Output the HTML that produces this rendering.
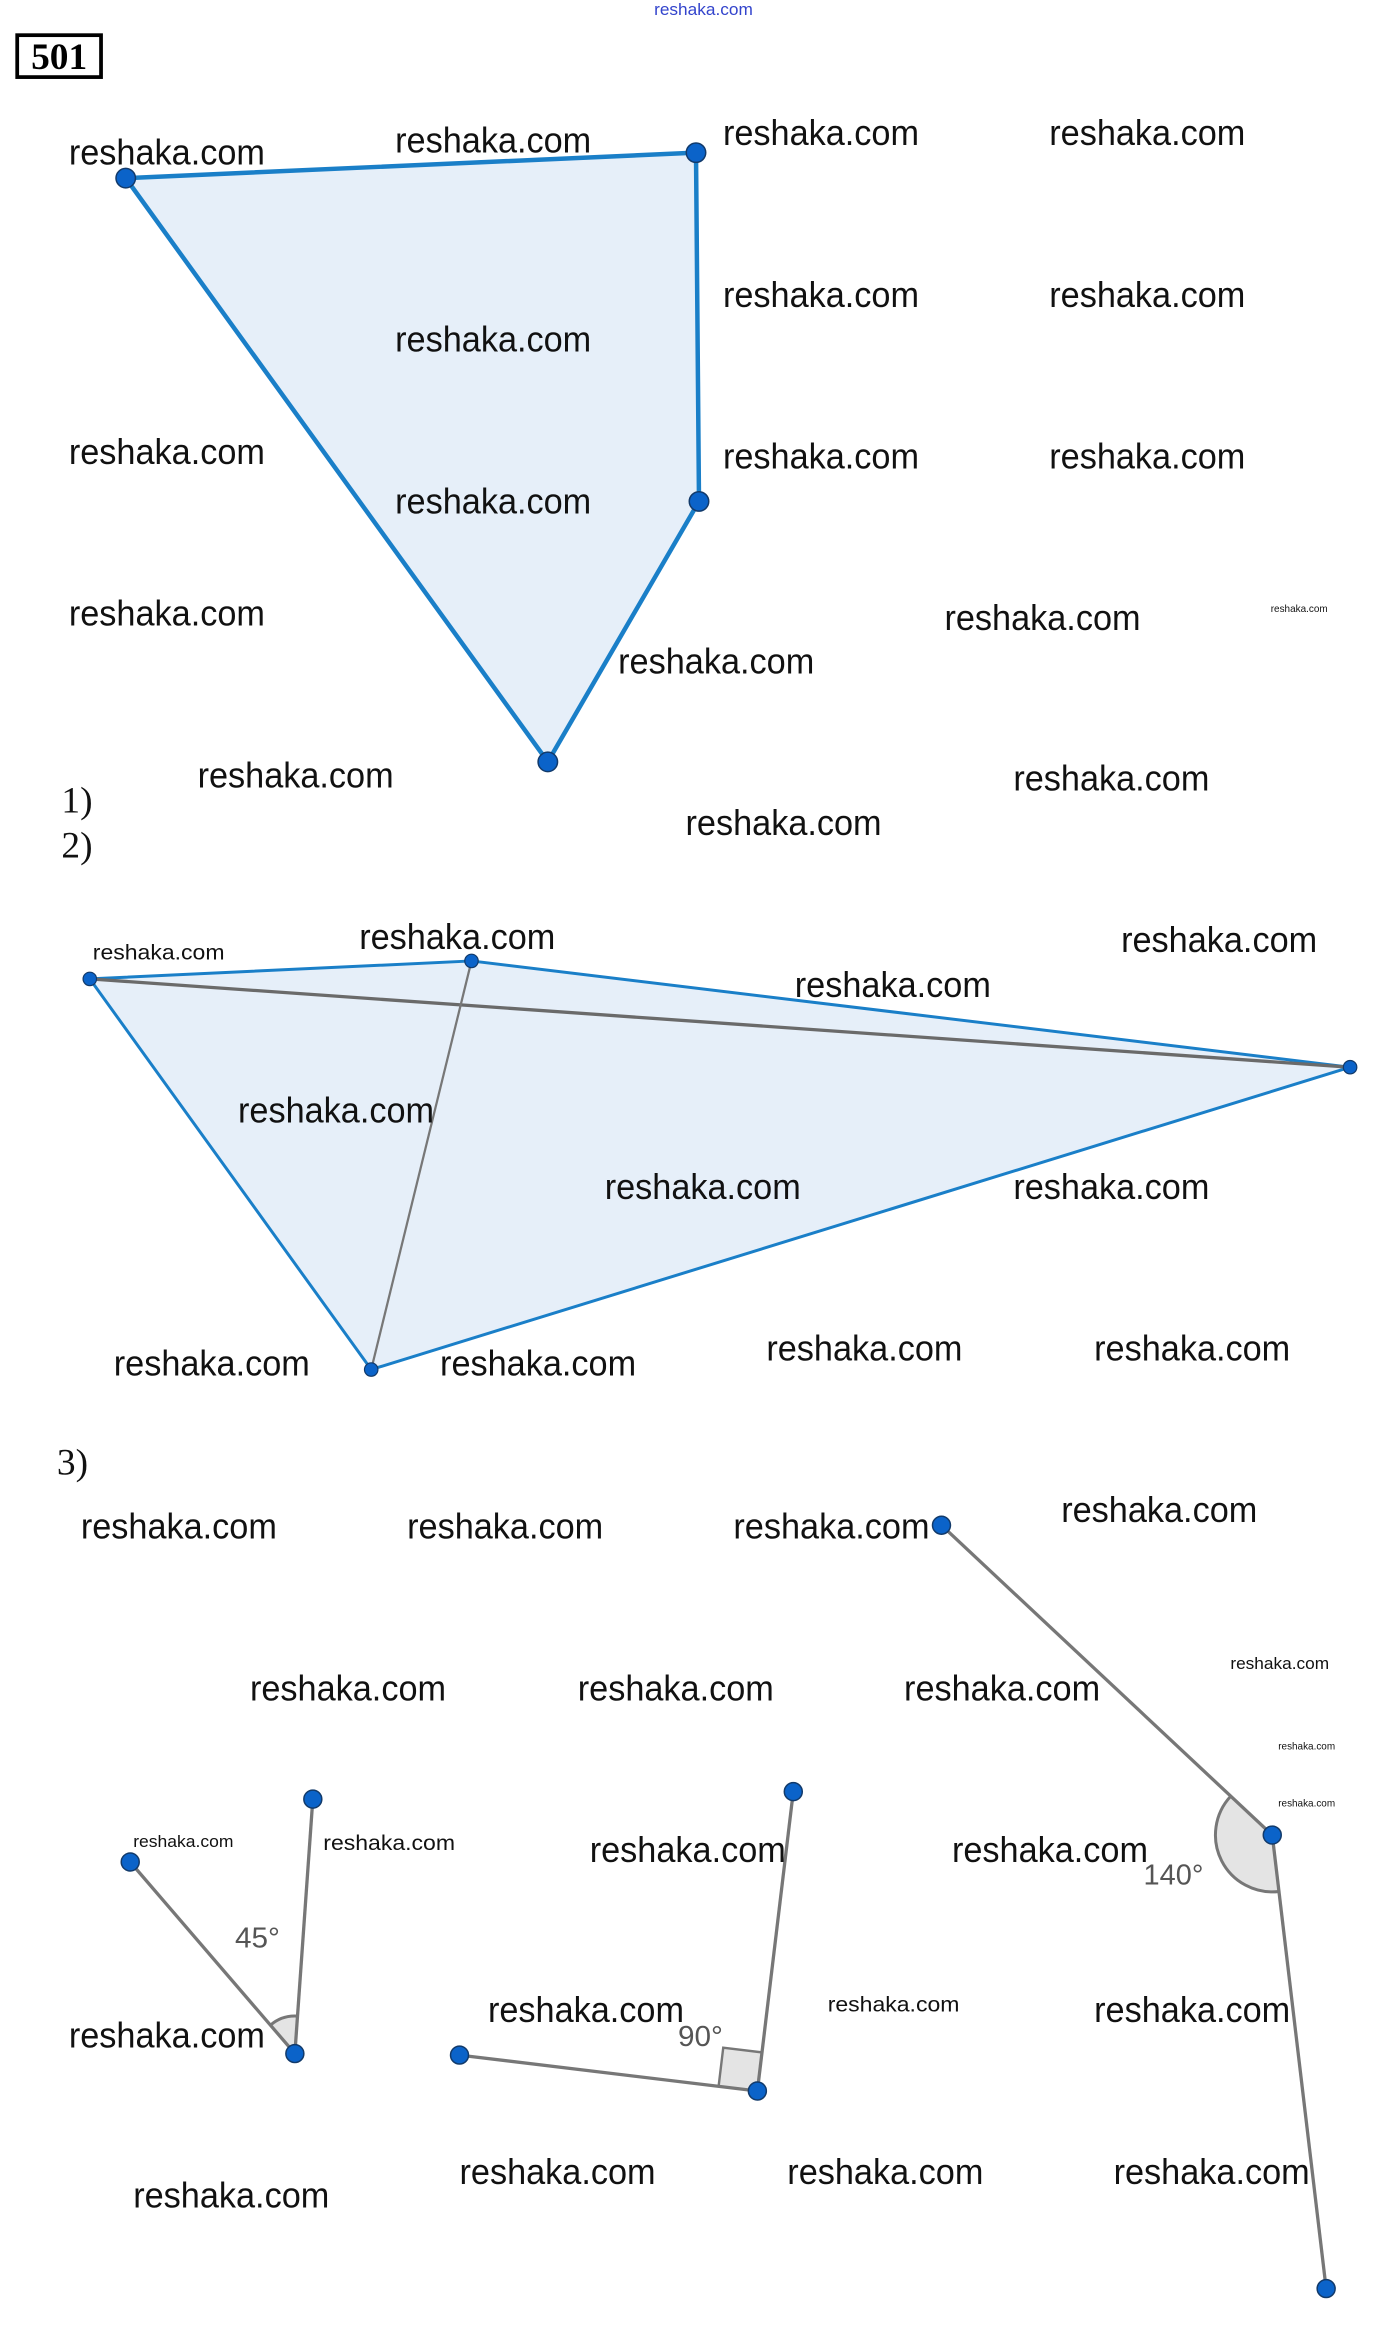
<!DOCTYPE html>
<html><head><meta charset="utf-8"><style>
html,body{margin:0;padding:0;background:#fff;}
svg{display:block;}
.b{font-family:"Liberation Sans",sans-serif;font-size:24px;fill:#111;}
.s{font-family:"Liberation Sans",sans-serif;font-size:14px;fill:#111;}
.t{font-family:"Liberation Sans",sans-serif;font-size:6.5px;fill:#111;}
.n{font-family:"Liberation Serif",serif;font-size:25px;fill:#111;}
.g{font-family:"Liberation Sans",sans-serif;font-size:19px;fill:#555;}
</style></head><body>
<svg width="1392" height="2326" viewBox="0 0 930 1554" xmlns="http://www.w3.org/2000/svg">
<rect width="930" height="1554" fill="#fff"/>
<text x="470" y="10" class="s" style="fill:#3344cc;font-size:11px" text-anchor="middle" textLength="66" lengthAdjust="spacingAndGlyphs">reshaka.com</text>
<rect x="11.5" y="23.5" width="56" height="28" fill="none" stroke="#000" stroke-width="2.5"/>
<text x="39.5" y="46" text-anchor="middle" style="font-family:'Liberation Serif',serif;font-weight:bold;font-size:25px">501</text>

<!-- figure 1 -->
<polygon points="84,119 465,102 467,335 366,509" fill="#e6eff9" stroke="#1a7fc8" stroke-width="3" stroke-linejoin="round"/>
<g fill="#0b63c9" stroke="#123a6a" stroke-width="1">
<circle cx="84" cy="119" r="6.5"/><circle cx="465" cy="102" r="6.5"/><circle cx="467" cy="335" r="6.5"/><circle cx="366" cy="509" r="6.5"/>
</g>
<text x="46" y="110" class="b" textLength="131" lengthAdjust="spacingAndGlyphs">reshaka.com</text>
<text x="264" y="102" class="b" textLength="131" lengthAdjust="spacingAndGlyphs">reshaka.com</text>
<text x="483" y="97" class="b" textLength="131" lengthAdjust="spacingAndGlyphs">reshaka.com</text>
<text x="701" y="97" class="b" textLength="131" lengthAdjust="spacingAndGlyphs">reshaka.com</text>
<text x="483" y="205" class="b" textLength="131" lengthAdjust="spacingAndGlyphs">reshaka.com</text>
<text x="701" y="205" class="b" textLength="131" lengthAdjust="spacingAndGlyphs">reshaka.com</text>
<text x="264" y="235" class="b" textLength="131" lengthAdjust="spacingAndGlyphs">reshaka.com</text>
<text x="46" y="310" class="b" textLength="131" lengthAdjust="spacingAndGlyphs">reshaka.com</text>
<text x="483" y="313" class="b" textLength="131" lengthAdjust="spacingAndGlyphs">reshaka.com</text>
<text x="701" y="313" class="b" textLength="131" lengthAdjust="spacingAndGlyphs">reshaka.com</text>
<text x="264" y="343" class="b" textLength="131" lengthAdjust="spacingAndGlyphs">reshaka.com</text>
<text x="46" y="418" class="b" textLength="131" lengthAdjust="spacingAndGlyphs">reshaka.com</text>
<text x="631" y="421" class="b" textLength="131" lengthAdjust="spacingAndGlyphs">reshaka.com</text>
<text x="413" y="450" class="b" textLength="131" lengthAdjust="spacingAndGlyphs">reshaka.com</text>
<text x="132" y="526" class="b" textLength="131" lengthAdjust="spacingAndGlyphs">reshaka.com</text>
<text x="677" y="528" class="b" textLength="131" lengthAdjust="spacingAndGlyphs">reshaka.com</text>
<text x="458" y="558" class="b" textLength="131" lengthAdjust="spacingAndGlyphs">reshaka.com</text>
<text x="849" y="409" class="t" textLength="38" lengthAdjust="spacingAndGlyphs">reshaka.com</text>
<text x="41" y="543" class="n">1)</text>
<text x="41" y="573" class="n">2)</text>

<!-- figure 2 -->
<polygon points="60,654 315,642 902,713 248,915" fill="#e6eff9" stroke="#1a7fc8" stroke-width="2" stroke-linejoin="round"/>
<line x1="60" y1="654" x2="902" y2="713" stroke="#6a6a6a" stroke-width="2.2"/>
<line x1="315" y1="642" x2="248" y2="915" stroke="#777" stroke-width="1.5"/>
<g fill="#0b63c9" stroke="#123a6a" stroke-width="0.8">
<circle cx="60" cy="654" r="4.5"/><circle cx="315" cy="642" r="4.5"/><circle cx="902" cy="713" r="4.5"/><circle cx="248" cy="915" r="4.5"/>
</g>
<text x="62" y="641" class="s" textLength="88" lengthAdjust="spacingAndGlyphs">reshaka.com</text>
<text x="240" y="634" class="b" textLength="131" lengthAdjust="spacingAndGlyphs">reshaka.com</text>
<text x="749" y="636" class="b" textLength="131" lengthAdjust="spacingAndGlyphs">reshaka.com</text>
<text x="531" y="666" class="b" textLength="131" lengthAdjust="spacingAndGlyphs">reshaka.com</text>
<text x="159" y="750" class="b" textLength="131" lengthAdjust="spacingAndGlyphs">reshaka.com</text>
<text x="404" y="801" class="b" textLength="131" lengthAdjust="spacingAndGlyphs">reshaka.com</text>
<text x="677" y="801" class="b" textLength="131" lengthAdjust="spacingAndGlyphs">reshaka.com</text>
<text x="76" y="919" class="b" textLength="131" lengthAdjust="spacingAndGlyphs">reshaka.com</text>
<text x="294" y="919" class="b" textLength="131" lengthAdjust="spacingAndGlyphs">reshaka.com</text>
<text x="512" y="909" class="b" textLength="131" lengthAdjust="spacingAndGlyphs">reshaka.com</text>
<text x="731" y="909" class="b" textLength="131" lengthAdjust="spacingAndGlyphs">reshaka.com</text>

<!-- figure 3 -->
<text x="38" y="985" class="n">3)</text>
<path d="M197,1372 L180.7,1353 A25,25 0 0 1 198.8,1347 Z" fill="#e4e4e4" stroke="none"/>
<path d="M180.7,1353 A25,25 0 0 1 198.8,1347" fill="none" stroke="#777" stroke-width="2"/>
<line x1="87" y1="1244" x2="197" y2="1372" stroke="#777" stroke-width="2.2"/>
<line x1="209" y1="1202" x2="197" y2="1372" stroke="#777" stroke-width="2.2"/>
<polygon points="506,1397 480.1,1393.9 483.2,1368.1 509.1,1371.2" fill="#e4e4e4" stroke="#777" stroke-width="1.6"/>
<line x1="307" y1="1373" x2="506" y2="1397" stroke="#777" stroke-width="2.2"/>
<line x1="530" y1="1197" x2="506" y2="1397" stroke="#777" stroke-width="2.2"/>
<path d="M850,1226 L822.3,1200 A38,38 0 0 0 854.5,1263.7 Z" fill="#e4e4e4" stroke="none"/>
<path d="M822.3,1200 A38,38 0 0 0 854.5,1263.7" fill="none" stroke="#777" stroke-width="2"/>
<line x1="629" y1="1019" x2="850" y2="1226" stroke="#777" stroke-width="2.2"/>
<line x1="886" y1="1529" x2="850" y2="1226" stroke="#777" stroke-width="2.2"/>
<g fill="#0b63c9" stroke="#123a6a" stroke-width="1">
<circle cx="87" cy="1244" r="6"/><circle cx="209" cy="1202" r="6"/><circle cx="197" cy="1372" r="6"/>
<circle cx="307" cy="1373" r="6"/><circle cx="506" cy="1397" r="6"/><circle cx="530" cy="1197" r="6"/>
<circle cx="629" cy="1019" r="6"/><circle cx="850" cy="1226" r="6"/><circle cx="886" cy="1529" r="6"/>
</g>
<text x="157" y="1301" class="g" textLength="30" lengthAdjust="spacingAndGlyphs">45°</text>
<text x="453" y="1367" class="g" textLength="30" lengthAdjust="spacingAndGlyphs">90°</text>
<text x="764" y="1259" class="g" textLength="40" lengthAdjust="spacingAndGlyphs">140°</text>

<text x="54" y="1028" class="b" textLength="131" lengthAdjust="spacingAndGlyphs">reshaka.com</text>
<text x="272" y="1028" class="b" textLength="131" lengthAdjust="spacingAndGlyphs">reshaka.com</text>
<text x="490" y="1028" class="b" textLength="131" lengthAdjust="spacingAndGlyphs">reshaka.com</text>
<text x="709" y="1017" class="b" textLength="131" lengthAdjust="spacingAndGlyphs">reshaka.com</text>
<text x="822" y="1115" class="s" style="font-size:11px" textLength="66" lengthAdjust="spacingAndGlyphs">reshaka.com</text>
<text x="167" y="1136" class="b" textLength="131" lengthAdjust="spacingAndGlyphs">reshaka.com</text>
<text x="386" y="1136" class="b" textLength="131" lengthAdjust="spacingAndGlyphs">reshaka.com</text>
<text x="604" y="1136" class="b" textLength="131" lengthAdjust="spacingAndGlyphs">reshaka.com</text>
<text x="854" y="1169" class="t" textLength="38" lengthAdjust="spacingAndGlyphs">reshaka.com</text>
<text x="854" y="1207" class="t" textLength="38" lengthAdjust="spacingAndGlyphs">reshaka.com</text>
<text x="89" y="1234" class="s" style="font-size:11px" textLength="67" lengthAdjust="spacingAndGlyphs">reshaka.com</text>
<text x="216" y="1236" class="s" textLength="88" lengthAdjust="spacingAndGlyphs">reshaka.com</text>
<text x="394" y="1244" class="b" textLength="131" lengthAdjust="spacingAndGlyphs">reshaka.com</text>
<text x="636" y="1244" class="b" textLength="131" lengthAdjust="spacingAndGlyphs">reshaka.com</text>
<text x="46" y="1368" class="b" textLength="131" lengthAdjust="spacingAndGlyphs">reshaka.com</text>
<text x="326" y="1351" class="b" textLength="131" lengthAdjust="spacingAndGlyphs">reshaka.com</text>
<text x="553" y="1344" class="s" textLength="88" lengthAdjust="spacingAndGlyphs">reshaka.com</text>
<text x="731" y="1351" class="b" textLength="131" lengthAdjust="spacingAndGlyphs">reshaka.com</text>
<text x="307" y="1459" class="b" textLength="131" lengthAdjust="spacingAndGlyphs">reshaka.com</text>
<text x="526" y="1459" class="b" textLength="131" lengthAdjust="spacingAndGlyphs">reshaka.com</text>
<text x="744" y="1459" class="b" textLength="131" lengthAdjust="spacingAndGlyphs">reshaka.com</text>
<text x="89" y="1475" class="b" textLength="131" lengthAdjust="spacingAndGlyphs">reshaka.com</text>
</svg>
</body></html>
